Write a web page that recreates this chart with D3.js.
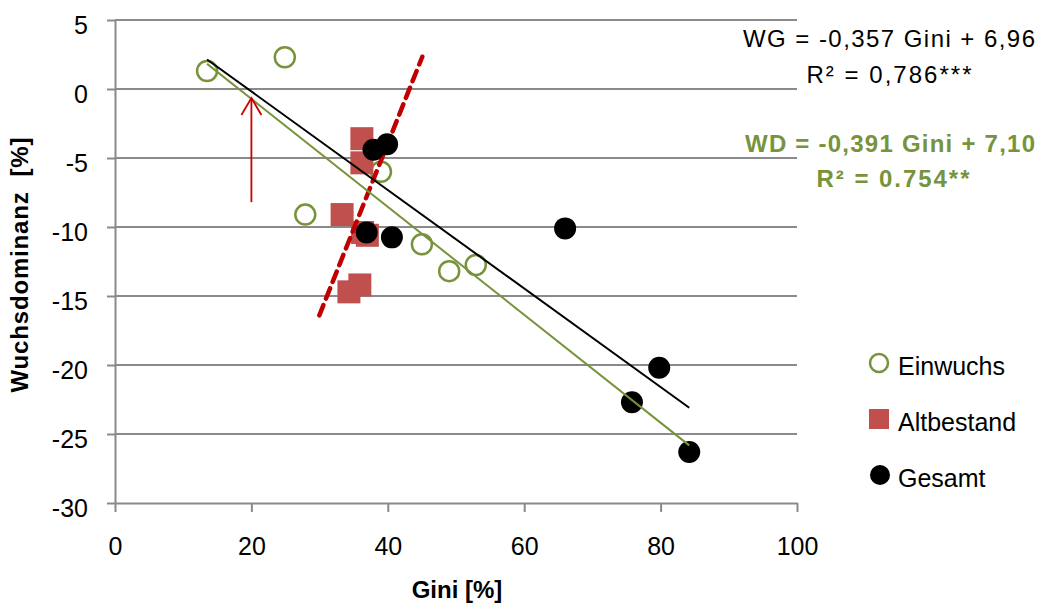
<!DOCTYPE html>
<html>
<head>
<meta charset="utf-8">
<script src="https://cdn.jsdelivr.net/npm/d3@7"></script>
<style>
  html, body { margin: 0; padding: 0; background: #fff; }
  svg { display: block; font-family: "Liberation Sans", Arial, sans-serif; }
</style>
</head>
<body>
<svg id="chart" width="1042" height="605"></svg>
<script>
// ---- data ----
const einwuchsGini = [13.5, 24.9, 27.9, 39.0, 45.0, 49.0, 52.9];
const einwuchsWD   = [1.3, 2.3, -9.1, -6.0, -11.25, -13.2, -12.75];

const altbestandGini = [36.2, 36.2, 33.3, 36.3, 37.0, 35.9, 34.3];
const altbestandWD   = [-3.6, -5.35, -9.1, -10.4, -10.6, -14.2, -14.7];

const gesamtGini = [39.9, 37.9, 36.9, 40.6, 66.0, 79.8, 75.8, 84.2];
const gesamtWD   = [-4.0, -4.4, -10.4, -10.75, -10.1, -20.2, -22.7, -26.3];

// trend lines: slope, intercept, x-range
const wgSlope = -0.357, wgIntercept = 6.96;
const wdSlope = -0.391, wdIntercept = 7.10;
const trendRange = [13.5, 84.2];

// hand-drawn red dashed line & arrow (data coordinates)
const redDashGini = [29.96, 45.06];
const redDashWD   = [-16.4, 2.34];
const arrowGini = 20;
const arrowWD   = [-8.2, -0.65];

const xTicks = [0, 20, 40, 60, 80, 100];
const yTicks = [-30, -25, -20, -15, -10, -5, 0, 5];

const legendLabels = ["Einwuchs", "Altbestand", "Gesamt"];
const eqWG = ["WG = -0,357 Gini + 6,96", "R² = 0,786***"];
const eqWD = ["WD = -0,391 Gini + 7,10", "R² = 0.754**"];

// ---- drawing ----
const GREEN = "#77933c", RED = "#c0504d", DARKRED = "#c00000", GRID = "#8a8a8a";
const svg = d3.select("#chart");
const x = d3.scaleLinear().domain([0, 100]).range([115, 797]);
const y = d3.scaleLinear().domain([-30, 5]).range([503, 20]);
const fmt = d => String(d); // plain hyphen-minus like the reference

// gridlines
svg.append("g")
  .selectAll("line").data(yTicks.filter(t => t > -30)).join("line")
  .attr("x1", x(0)).attr("x2", x(100))
  .attr("y1", d => y(d)).attr("y2", d => y(d))
  .attr("stroke", GRID).attr("stroke-width", 2);

// y axis
const yAxis = svg.append("g").attr("transform", `translate(${x(0)},0)`)
  .call(d3.axisLeft(y).tickValues(yTicks).tickFormat(fmt).tickSize(8).tickSizeOuter(0).tickPadding(19));
yAxis.select(".domain").attr("stroke", GRID).attr("stroke-width", 2);
yAxis.selectAll(".tick line").attr("stroke", GRID).attr("stroke-width", 2);
yAxis.selectAll(".tick text").attr("font-size", 25).attr("fill", "#000")
  .attr("font-family", "Liberation Sans, Arial, sans-serif")
  .attr("dy", "0.55em");

// x axis
const xAxis = svg.append("g").attr("transform", `translate(0,${y(-30)})`)
  .call(d3.axisBottom(x).tickValues(xTicks).tickFormat(fmt).tickSize(9).tickSizeOuter(0).tickPadding(25));
xAxis.select(".domain").attr("stroke", GRID).attr("stroke-width", 2);
xAxis.selectAll(".tick line").attr("stroke", GRID).attr("stroke-width", 2);
xAxis.selectAll(".tick text").attr("font-size", 25).attr("fill", "#000")
  .attr("font-family", "Liberation Sans, Arial, sans-serif");

// axis titles
svg.append("text").attr("x", 457).attr("y", 598).attr("text-anchor", "middle")
  .attr("font-size", 24).attr("font-weight", "bold").text("Gini [%]");
svg.append("text").attr("transform", "translate(28,265) rotate(-90)")
  .attr("text-anchor", "middle").attr("font-size", 24).attr("font-weight", "bold")
  .attr("textLength", 255).attr("lengthAdjust", "spacing")
  .text("Wuchsdominanz  [%]").style("white-space", "pre");

// markers
const ein = einwuchsGini.map((g, i) => ({ g, v: einwuchsWD[i] }));
const alt = altbestandGini.map((g, i) => ({ g, v: altbestandWD[i] }));
const ges = gesamtGini.map((g, i) => ({ g, v: gesamtWD[i] }));

svg.append("g").selectAll("circle").data(ein).join("circle")
  .attr("cx", d => x(d.g)).attr("cy", d => y(d.v)).attr("r", 10)
  .attr("fill", "none").attr("stroke", GREEN).attr("stroke-width", 2.5);

svg.append("g").selectAll("rect").data(alt).join("rect")
  .attr("x", d => x(d.g) - 11.5).attr("y", d => y(d.v) - 11.5)
  .attr("width", 23).attr("height", 23).attr("fill", RED);

// red dashed line
svg.append("line")
  .attr("x1", x(redDashGini[0])).attr("y1", y(redDashWD[0]))
  .attr("x2", x(redDashGini[1])).attr("y2", y(redDashWD[1]))
  .attr("stroke", DARKRED).attr("stroke-width", 4.5)
  .attr("stroke-dasharray", "11,7").attr("stroke-linecap", "round");

svg.append("g").selectAll("circle").data(ges).join("circle")
  .attr("cx", d => x(d.g)).attr("cy", d => y(d.v)).attr("r", 11)
  .attr("fill", "#000");

// trend lines
svg.append("line")
  .attr("x1", x(trendRange[0])).attr("y1", y(wgSlope * trendRange[0] + wgIntercept))
  .attr("x2", x(trendRange[1])).attr("y2", y(wgSlope * trendRange[1] + wgIntercept))
  .attr("stroke", "#000").attr("stroke-width", 2);
svg.append("line")
  .attr("x1", x(trendRange[0])).attr("y1", y(wdSlope * trendRange[0] + wdIntercept))
  .attr("x2", x(trendRange[1])).attr("y2", y(wdSlope * trendRange[1] + wdIntercept))
  .attr("stroke", GREEN).attr("stroke-width", 2);

// red arrow
const ax = x(arrowGini), ay0 = y(arrowWD[0]), ay1 = y(arrowWD[1]);
svg.append("line").attr("x1", ax).attr("x2", ax).attr("y1", ay0).attr("y2", ay1)
  .attr("stroke", "#cc0000").attr("stroke-width", 1.8);
svg.append("polyline")
  .attr("points", `${ax - 10},${ay1 + 17} ${ax},${ay1} ${ax + 10},${ay1 + 17}`)
  .attr("fill", "none").attr("stroke", "#cc0000").attr("stroke-width", 1.8);

// equations
const eqWGLen = [292, 165], eqWDLen = [290, 153];
eqWG.forEach((t, i) => {
  svg.append("text").attr("x", 889).attr("y", [47, 83][i]).attr("text-anchor", "middle")
    .attr("font-size", 24).attr("fill", "#000")
    .attr("textLength", eqWGLen[i]).attr("lengthAdjust", "spacing").text(t);
});
eqWD.forEach((t, i) => {
  svg.append("text").attr("x", [890, 893][i]).attr("y", [152, 187][i]).attr("text-anchor", "middle")
    .attr("font-size", 24).attr("font-weight", "bold").attr("fill", GREEN)
    .attr("textLength", eqWDLen[i]).attr("lengthAdjust", "spacing").text(t);
});

// legend
const legY = [363, 419, 475];
const leg = svg.append("g");
leg.append("circle").attr("cx", 879).attr("cy", legY[0]).attr("r", 9)
  .attr("fill", "none").attr("stroke", GREEN).attr("stroke-width", 2.5);
leg.append("rect").attr("x", 869).attr("y", legY[1] - 10).attr("width", 20).attr("height", 20)
  .attr("fill", RED);
leg.append("circle").attr("cx", 880).attr("cy", legY[2]).attr("r", 10).attr("fill", "#000");
legendLabels.forEach((t, i) => {
  leg.append("text").attr("x", 898).attr("y", legY[i] + 12)
    .attr("font-size", 25).attr("fill", "#000").text(t);
});
</script>
</body>
</html>
